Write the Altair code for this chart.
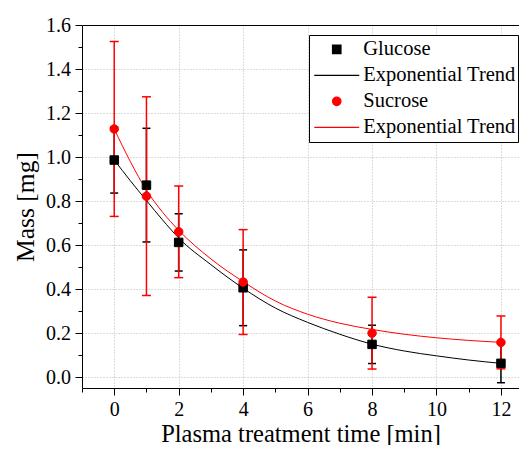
import altair as alt
import pandas as pd

# ---- data ----
time_min = [0, 1, 2, 4, 8, 12]
glucose_mass = [0.987, 0.873, 0.613, 0.407, 0.150, 0.064]
glucose_err = [0.150, 0.258, 0.130, 0.172, 0.087, 0.088]
sucrose_mass = [1.128, 0.823, 0.661, 0.433, 0.201, 0.159]
sucrose_err = [0.397, 0.451, 0.208, 0.238, 0.163, 0.120]

trend_time = [0, 0.5, 1, 1.5, 2, 3, 4, 5, 6, 7, 8, 9, 10, 11, 12]
glucose_trend = [0.987, 0.893, 0.803, 0.715, 0.633, 0.512, 0.405, 0.315,
                 0.250, 0.196, 0.151, 0.120, 0.098, 0.079, 0.064]
sucrose_trend = [1.128, 0.980, 0.850, 0.750, 0.668, 0.538, 0.435, 0.347,
                 0.287, 0.246, 0.218, 0.196, 0.180, 0.168, 0.159]

legend_keys = ["g", "gt", "s", "st"]
legend_labels = ["Glucose", "Exponential Trend", "Sucrose", "Exponential Trend"]
legend_shapes = ["square", "M-5.3,0H5.3", "circle", "M-5.3,0H5.3"]
legend_colors = ["black", "black", "red", "red"]

x_major = [0, 2, 4, 6, 8, 10, 12]
x_minor = [-1, 1, 3, 5, 7, 9, 11]
y_major = [0.0, 0.2, 0.4, 0.6, 0.8, 1.0, 1.2, 1.4, 1.6]
y_minor = [0.1, 0.3, 0.5, 0.7, 0.9, 1.1, 1.3, 1.5]

x_title = "Plasma treatment time [min]"
y_title = "Mass [mg]"

# ---- tables ----
points = pd.DataFrame({
    "time": time_min + time_min,
    "mass": glucose_mass + sucrose_mass,
    "err": glucose_err + sucrose_err,
    "key": ["g"] * len(time_min) + ["s"] * len(time_min),
})
trend = pd.DataFrame({
    "time": trend_time + trend_time,
    "value": glucose_trend + sucrose_trend,
    "key": ["gt"] * len(trend_time) + ["st"] * len(trend_time),
})

FONT = "Liberation Serif"
XS = alt.Scale(domain=[-1, 12.56], nice=False, zero=False)
YS = alt.Scale(domain=[-0.048, 1.6], nice=False, zero=False)

label_expr = ("datum.value == 'g' ? '" + legend_labels[0] + "' : datum.value == 's' ? '"
              + legend_labels[2] + "' : '" + legend_labels[1] + "'")
leg = alt.Legend(
    title=None, orient="none", legendX=227, legendY=10,
    labelExpr=label_expr, labelFont=FONT, labelFontSize=20.5, labelColor="black",
    labelOffset=16.3, symbolOffset=16, symbolSize=72, labelLimit=300,
    strokeColor="black", fillColor="white",
    padding=1.5, rowPadding=0, clipHeight=25.6, symbolStrokeWidth=1.2,
)

layers = []
for key, col, cap in [("g", "black", 8), ("s", "red", 9)]:
    base = alt.Chart(points).transform_filter(alt.datum.key == key).transform_calculate(
        lo="datum.mass - datum.err", hi="datum.mass + datum.err")
    layers.append(base.mark_rule(color=col, strokeWidth=1.5).encode(
        x=alt.X("time:Q", scale=XS, axis=None),
        y=alt.Y("lo:Q", scale=YS, axis=None),
        y2="hi:Q",
    ))
    layers.append(base.transform_fold(["lo", "hi"], as_=["end", "val"]).mark_tick(
        orient="horizontal", color=col, size=cap, thickness=1.5, opacity=1).encode(
        x=alt.X("time:Q", scale=XS, axis=None),
        y=alt.Y("val:Q", scale=YS, axis=None),
    ))

# black trend line carries the minor-tick axes
layers.append(alt.Chart(trend).transform_filter(alt.datum.key == "gt").mark_line(
    color="black", strokeWidth=1, interpolate="monotone").encode(
    x=alt.X("time:Q", scale=XS, axis=alt.Axis(
        orient="bottom", values=x_minor, tickSize=4, labels=False, domain=False,
        grid=False, title=None, tickColor="black")),
    y=alt.Y("value:Q", scale=YS, axis=alt.Axis(
        orient="left", values=y_minor, tickSize=4, labels=False, domain=False,
        grid=False, title=None, tickColor="black")),
))
# red trend line carries the top frame line
layers.append(alt.Chart(trend).transform_filter(alt.datum.key == "st").mark_line(
    color="red", strokeWidth=1, interpolate="monotone").encode(
    x=alt.X("time:Q", scale=XS, axis=alt.Axis(
        orient="top", ticks=False, labels=False, grid=False, domain=True,
        domainColor="black", title=None)),
    y=alt.Y("value:Q", scale=YS, axis=None),
))

layers.append(alt.Chart(points).mark_point(filled=True, opacity=1, strokeWidth=1, size=72).encode(
    x=alt.X("time:Q", scale=XS, axis=alt.Axis(
        orient="bottom", values=x_major, tickSize=7, labelPadding=4, grid=True,
        gridDash=[1, 2], gridColor="#b8b8b8", gridWidth=1, title=x_title,
        titleY=53, titleBaseline="alphabetic", titleFontSize=24.5)),
    y=alt.Y("mass:Q", scale=YS, axis=alt.Axis(
        orient="left", values=y_major, format=".1f", tickSize=7, labelPadding=4.5,
        grid=True, gridDash=[1, 2], gridColor="#b8b8b8", gridWidth=1, title=y_title,
        titleX=-48.5, titleBaseline="alphabetic", titleFontSize=25.5)),
    fill=alt.Fill("key:N", scale=alt.Scale(domain=legend_keys, range=legend_colors), legend=leg),
    stroke=alt.Stroke("key:N", scale=alt.Scale(domain=legend_keys, range=legend_colors), legend=leg),
    shape=alt.Shape("key:N", scale=alt.Scale(domain=legend_keys, range=legend_shapes), legend=leg),
))

chart = alt.layer(*layers).resolve_axis(x="independent", y="independent").properties(
    width=437, height=363,
    autosize=alt.AutoSizeParams(type="none"),
    padding={"left": 74, "top": 17, "right": 0, "bottom": 57},
).configure_axis(
    labelFont=FONT, titleFont=FONT, labelFontSize=20, labelColor="black",
    titleColor="black", titleFontWeight="normal", tickColor="black",
    domainColor="black", tickWidth=1, domainWidth=1,
).configure_view(stroke=None)

chart.save("out.html", embed_options={"renderer": "svg", "actions": False})
